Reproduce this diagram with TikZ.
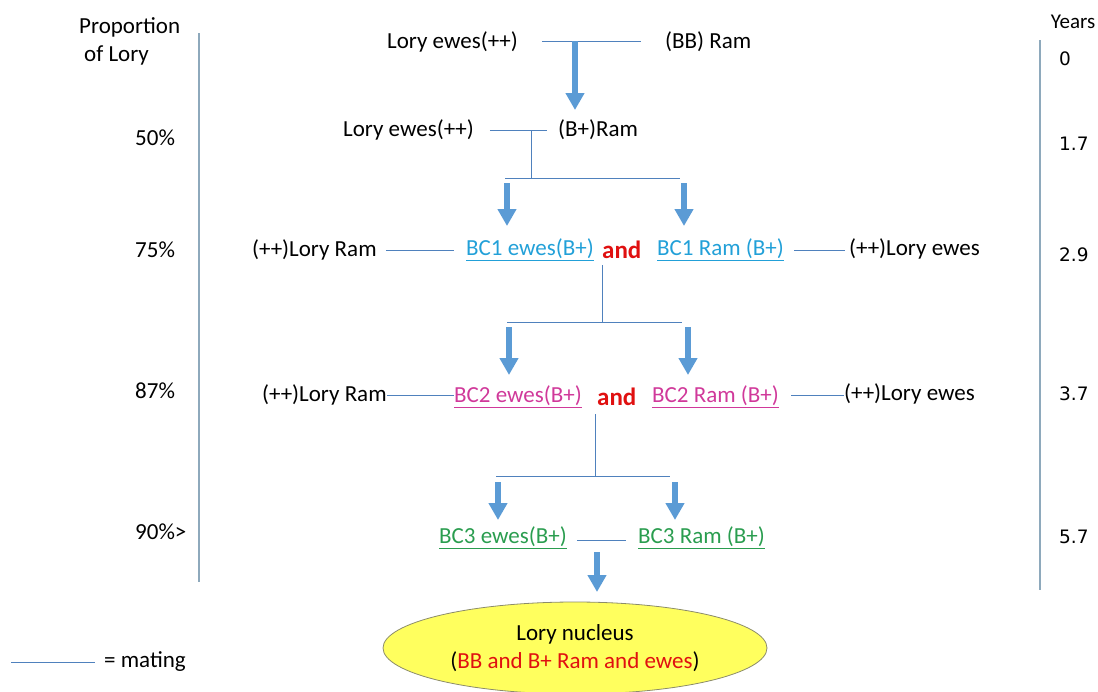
\documentclass[tikz,border=0pt]{standalone}
\usepackage{fontspec}
\setmainfont{Carlito}
\newfontfamily\yrfont{DejaVu Sans}
\usepackage{xcolor}
\usepackage{tikz}
\usetikzlibrary{arrows.meta,positioning,shapes.geometric,calc}
\definecolor{lkline}{HTML}{4F81BD}
\definecolor{lkside}{HTML}{8EA9BC}
\definecolor{lkarrow}{HTML}{5B9BD5}
\definecolor{lkcyan}{HTML}{22A0D8}
\definecolor{lkpink}{HTML}{D0399A}
\definecolor{lkgreen}{HTML}{2A9D4F}
\definecolor{lkred}{HTML}{E01010}
\definecolor{lkyellow}{HTML}{FFFF5E}
\definecolor{lkrim}{HTML}{8C8C6A}
\newsavebox{\bcbox}
\newcommand{\bcline}[1]{\sbox{\bcbox}{#1}\rlap{\rule[-5.5pt]{\wd\bcbox}{1.2pt}}\usebox{\bcbox}}
\tikzset{
  lbl/.style={font=\fontsize{23}{28}\selectfont,inner sep=0pt,anchor=west},
  yrlbl/.style={font=\yrfont\fontsize{18.5}{22}\selectfont,inner sep=0pt,anchor=west},
  andlbl/.style={lbl,font=\fontsize{25}{28}\selectfont\bfseries,text=lkred},
  mate/.style={lkline,line width=0.9pt},
  side/.style={lkside,line width=1.1pt},
  fat/.style={lkarrow,line width=6pt,-{Triangle[width=18pt,length=17pt]}}
}

\begin{document}
\begin{tikzpicture}[x=1pt,y=-1pt]
\useasboundingbox (0,0) rectangle (1098,691);
% side scales
\node[lbl] (prop) at (79,27) {Proportion};
\node[lbl] (oflory) at (84,55) {of Lory};
\coordinate (lt) at (199,33);
\coordinate (lb) at (199,582);
\draw[side] (lt) -- (lb);
\node[lbl] (p50) at (135,138) {50\%};
\node[lbl] (p75) at (135,250) {75\%};
\node[lbl] (p87) at (135,391) {87\%};
\node[lbl] (p90) at (135,532) {90\%>};
\node[lbl,anchor=center,font=\fontsize{21}{24}\selectfont] (years) at (1073,22) {Years};
\coordinate (rt) at (1040,40);
\coordinate (rb) at (1040,590);
\draw[side] (rt) -- (rb);
\node[yrlbl] (y0) at (1059,59) {0};
\node[yrlbl] (y1) at (1059,144) {1.7};
\node[yrlbl] (y2) at (1059,255) {2.9};
\node[yrlbl] (y3) at (1059,394) {3.7};
\node[yrlbl] (y4) at (1059,537) {5.7};

% first cross
\node[lbl] (ewes0) at (387,42) {Lory ewes(++)};
\node[lbl] (bbram) at (665,42) {(BB) Ram};
\draw[mate] ([xshift=24pt,yshift=1pt]ewes0.east) -- ([xshift=-24pt,yshift=1pt]bbram.west);

% second cross
\node[lbl] (ewes1) at (343,130) {Lory ewes(++)};
\node[lbl] (bpram) at (558,130) {(B+)Ram};
\draw[mate] ([xshift=16pt]ewes1.east) -- ([xshift=-11pt]bpram.west);
\coordinate (j1) at (531,130);
\coordinate (bar1) at (531,178);
\coordinate (bar1l) at (505,178);
\coordinate (bar1r) at (680,178);
\draw[mate] (j1) -- (bar1);
\draw[mate] (bar1l) -- (bar1r);

% BC1
\node[lbl] (loryram1) at (252,250) {(++)Lory Ram};
\node[lbl,text=lkcyan] (bc1e) at (466,250) {\bcline{BC1 ewes(B+)}};
\node[andlbl] (and1) at (602,250) {and};
\node[lbl,text=lkcyan] (bc1r) at (657,250) {\bcline{BC1 Ram (B+)}};
\node[lbl] (loryewes1) at (849,249) {(++)Lory ewes};
\draw[mate] ([xshift=9pt]loryram1.east) -- ([xshift=-12pt]bc1e.west);
\draw[mate] ([xshift=10pt]bc1r.east) -- ([xshift=-4pt]bc1r.east -| loryewes1.west);
\coordinate (bar2) at (602,322);
\coordinate (bar2l) at (507,322);
\coordinate (bar2r) at (682,322);
\draw[mate] ([yshift=-6pt]and1.south -| bar2) -- (bar2);
\draw[mate] (bar2l) -- (bar2r);

% BC2
\node[lbl] (loryram2) at (262,395) {(++)Lory Ram};
\node[lbl,text=lkpink] (bc2e) at (454,397) {\bcline{BC2 ewes(B+)}};
\node[andlbl] (and2) at (597,397) {and};
\node[lbl,text=lkpink] (bc2r) at (652,397) {\bcline{BC2 Ram (B+)}};
\node[lbl] (loryewes2) at (844,394) {(++)Lory ewes};
\draw[mate] (loryram2.east) -- ([yshift=2pt]bc2e.west);
\draw[mate] ([xshift=12pt,yshift=2pt]bc2r.east) -- ([yshift=-1pt]loryewes2.west);
\coordinate (bar3) at (595,476);
\coordinate (bar3l) at (496,476);
\coordinate (bar3r) at (670,476);
\draw[mate] ([yshift=-8pt]and2.south -| bar3) -- (bar3);
\draw[mate] (bar3l) -- (bar3r);

% BC3
\node[lbl,text=lkgreen] (bc3e) at (439,538) {\bcline{BC3 ewes(B+)}};
\node[lbl,text=lkgreen] (bc3r) at (638,538) {\bcline{BC3 Ram (B+)}};
\draw[mate] ([xshift=10pt,yshift=-2pt]bc3e.east) -- ([xshift=-12pt,yshift=-2pt]bc3r.west);

% nucleus
\node[ellipse,draw=lkrim,line width=0.8pt,fill=lkyellow,minimum width=384pt,minimum height=92pt,
  align=center,inner sep=0pt,font=\fontsize{23}{28}\selectfont] (nucleus) at (575,648)
  {Lory nucleus\\(\textcolor{lkred}{BB and B+ Ram and ewes})};

% offspring arrows
\foreach \n/\x/\a/\b in {0/575/41/110, 1/507/183/226, 2/684/183/226, 3/509/327/375,
  4/688/327/375, 5/498/482/520, 6/675/482/520, 7/597/552/592}{
  \coordinate (s\n) at (\x,\a);
  \coordinate (e\n) at (\x,\b);
  \draw[fat] (s\n) -- (e\n);
}

% legend
\coordinate (key) at (11,662);
\node[lbl] (mating) at (104,662) {= mating};
\draw[mate] (key) -- ([xshift=-9pt]mating.west);
\end{tikzpicture}
\end{document}
